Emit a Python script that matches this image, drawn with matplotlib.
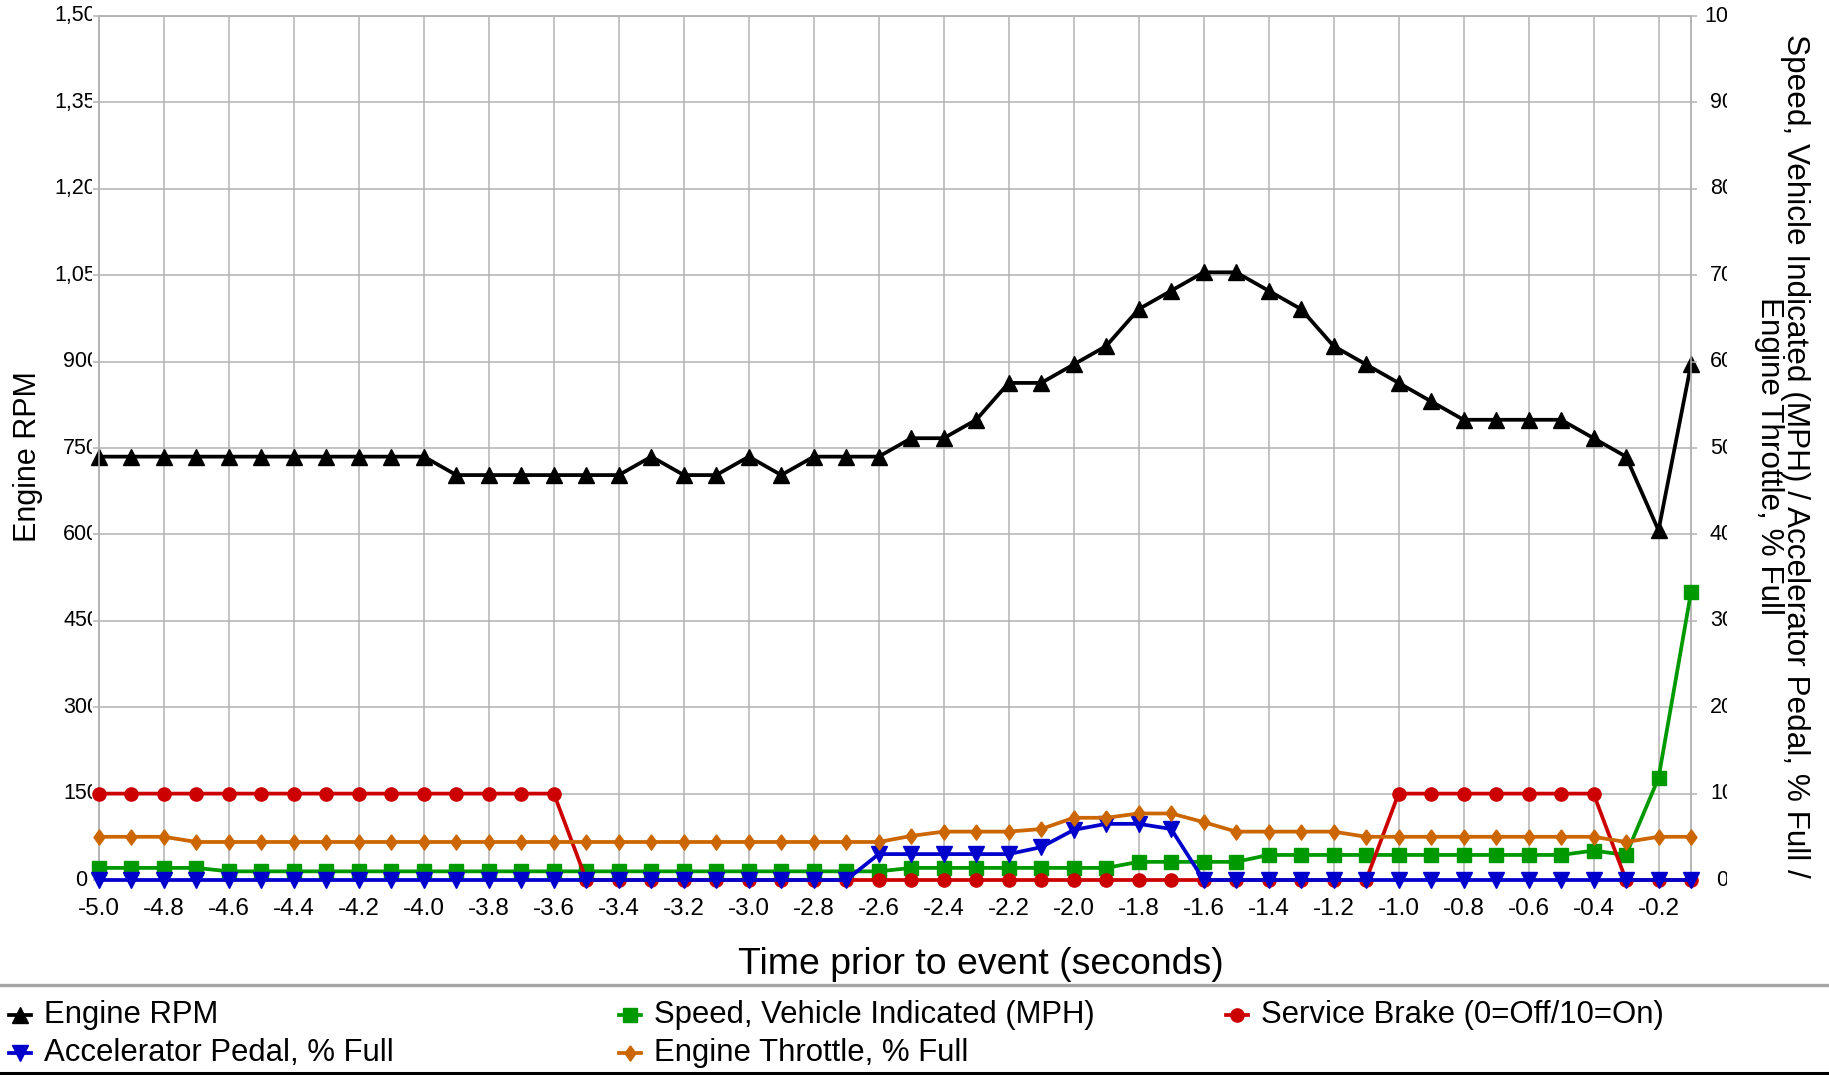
import matplotlib
matplotlib.use("Agg")
import matplotlib.pyplot as plt
from matplotlib.lines import Line2D
from matplotlib.transforms import Bbox, IdentityTransform, blended_transform_factory

plt.rcParams['font.family'] = ['Liberation Sans', 'DejaVu Sans']

# ---------------- data ----------------
time_s = [-5.0, -4.9, -4.8, -4.7, -4.6, -4.5, -4.4, -4.3, -4.2, -4.1,
          -4.0, -3.9, -3.8, -3.7, -3.6, -3.5, -3.4, -3.3, -3.2, -3.1,
          -3.0, -2.9, -2.8, -2.7, -2.6, -2.5, -2.4, -2.3, -2.2, -2.1,
          -2.0, -1.9, -1.8, -1.7, -1.6, -1.5, -1.4, -1.3, -1.2, -1.1,
          -1.0, -0.9, -0.8, -0.7, -0.6, -0.5, -0.4, -0.3, -0.2, -0.1]

engine_rpm = [735, 735, 735, 735, 735, 735, 735, 735, 735, 735,
              735, 703, 703, 703, 703, 703, 703, 735, 703, 703,
              735, 703, 735, 735, 735, 767, 767, 799, 863, 863,
              895, 927, 991, 1023, 1055, 1055, 1023, 991, 927, 895,
              863, 831, 799, 799, 799, 799, 767, 735, 607, 895]

speed_mph = [1.4, 1.4, 1.4, 1.4, 1.0, 1.0, 1.0, 1.0, 1.0, 1.0,
             1.0, 1.0, 1.0, 1.0, 1.0, 1.0, 1.0, 1.0, 1.0, 1.0,
             1.0, 1.0, 1.0, 1.0, 1.0, 1.4, 1.4, 1.4, 1.4, 1.4,
             1.4, 1.4, 2.1, 2.1, 2.1, 2.1, 2.9, 2.9, 2.9, 2.9,
             2.9, 2.9, 2.9, 2.9, 2.9, 2.9, 3.4, 2.9, 11.8, 33.3]

service_brake = [10, 10, 10, 10, 10, 10, 10, 10, 10, 10,
                 10, 10, 10, 10, 10, 0, 0, 0, 0, 0,
                 0, 0, 0, 0, 0, 0, 0, 0, 0, 0,
                 0, 0, 0, 0, 0, 0, 0, 0, 0, 0,
                 10, 10, 10, 10, 10, 10, 10, 0, 0, 0]

accel_pedal = [0, 0, 0, 0, 0, 0, 0, 0, 0, 0,
               0, 0, 0, 0, 0, 0, 0, 0, 0, 0,
               0, 0, 0, 0, 3.0, 3.0, 3.0, 3.0, 3.0, 3.8,
               5.8, 6.5, 6.5, 5.9, 0, 0, 0, 0, 0, 0,
               0, 0, 0, 0, 0, 0, 0, 0, 0, 0]

engine_throttle = [5.0, 5.0, 5.0, 4.4, 4.4, 4.4, 4.4, 4.4, 4.4, 4.4,
                   4.4, 4.4, 4.4, 4.4, 4.4, 4.4, 4.4, 4.4, 4.4, 4.4,
                   4.4, 4.4, 4.4, 4.4, 4.4, 5.1, 5.6, 5.6, 5.6, 5.9,
                   7.2, 7.2, 7.7, 7.7, 6.7, 5.6, 5.6, 5.6, 5.6, 5.0,
                   5.0, 5.0, 5.0, 5.0, 5.0, 5.0, 5.0, 4.4, 5.0, 5.0]

x_ticks = [-5.0, -4.8, -4.6, -4.4, -4.2, -4.0, -3.8, -3.6, -3.4, -3.2, -3.0,
           -2.8, -2.6, -2.4, -2.2, -2.0, -1.8, -1.6, -1.4, -1.2, -1.0,
           -0.8, -0.6, -0.4, -0.2]
x_tick_labels = ["-5.0", "-4.8", "-4.6", "-4.4", "-4.2", "-4.0", "-3.8", "-3.6",
                 "-3.4", "-3.2", "-3.0", "-2.8", "-2.6", "-2.4", "-2.2", "-2.0",
                 "-1.8", "-1.6", "-1.4", "-1.2", "-1.0", "-0.8", "-0.6", "-0.4", "-0.2"]
rpm_ticks = [0, 150, 300, 450, 600, 750, 900, 1050, 1200, 1350, 1500]
rpm_tick_labels = ["0", "150", "300", "450", "600", "750", "900",
                   "1,050", "1,200", "1,350", "1,500"]
right_ticks = [0, 10, 20, 30, 40, 50, 60, 70, 80, 90, 100]
right_tick_labels = ["0", "10", "20", "30", "40", "50", "60", "70", "80", "90", "100"]

series_labels = ["Engine RPM", "Speed, Vehicle Indicated (MPH)",
                 "Service Brake (0=Off/10=On)", "Accelerator Pedal, % Full",
                 "Engine Throttle, % Full"]

# ---------------- styling ----------------
W, H, DPI = 1829, 1075, 100
GRID = '#b3b3b3'
C_BLACK, C_GREEN, C_RED, C_BLUE, C_ORANGE = '#000000', '#009900', '#cc0000', '#0000cc', '#cc6600'
diamond = [(0, 1), (0.72, 0), (0, -1), (-0.72, 0), (0, 1)]
LW = 2.7

fig = plt.figure(figsize=(W / DPI, H / DPI), dpi=DPI)
AX_L, AX_R, AX_T, AX_B = 99, 1691, 16, 880
ax = fig.add_axes([AX_L / W, (H - AX_B) / H, (AX_R - AX_L) / W, (AX_B - AX_T) / H])
ax.set_xlim(-5.0, -0.1)
ax.set_ylim(0, 1500)
ax2 = ax.twinx()
ax2.set_ylim(0, 100)

ax.set_xticks(x_ticks)
ax.set_xticklabels(x_tick_labels, fontsize=17.5)
ax.set_yticks(rpm_ticks)
ax.set_yticklabels([])
ax2.set_yticks(right_ticks)
ax2.set_yticklabels([])
ax.grid(True, color=GRID, lw=1.1)
ax.set_axisbelow(True)
for a in (ax, ax2):
    for s in a.spines.values():
        s.set_color(GRID)
        s.set_linewidth(1.1)
    a.tick_params(length=4, width=1.1, color=GRID, pad=9)

# manual (clipped) y tick labels
trans_l = blended_transform_factory(IdentityTransform(), ax.transData)
for v, s in zip(rpm_ticks, rpm_tick_labels):
    t = ax.text(81, v, s, transform=trans_l, ha='center', va='center',
                fontsize=15.5, clip_on=True)
    t.set_clip_box(Bbox.from_extents(0, 0, 92, H))
trans_r = blended_transform_factory(IdentityTransform(), ax2.transData)
for v, s in zip(right_ticks, right_tick_labels):
    t = ax2.text(1722, v, s, transform=trans_r, ha='center', va='center',
                 fontsize=15.5, clip_on=True)
    t.set_clip_box(Bbox.from_extents(1695, 0, 1727, H))

# series
ax.plot(time_s, engine_rpm, color=C_BLACK, lw=LW, marker='^', ms=12, clip_on=False, zorder=3)
ax2.plot(time_s, speed_mph, color=C_GREEN, lw=LW, marker='s', ms=10, clip_on=False, zorder=3)
ax2.plot(time_s, service_brake, color=C_RED, lw=LW, marker='o', ms=9.5, clip_on=False, zorder=3)
ax2.plot(time_s, accel_pedal, color=C_BLUE, lw=LW, marker='v', ms=12, clip_on=False, zorder=3)
ax2.plot(time_s, engine_throttle, color=C_ORANGE, lw=LW, marker=diamond, ms=11, clip_on=False, zorder=3)

# axis titles
fig.text(28 / W, 1 - 457 / H, "Engine RPM", rotation=90, ha='center', va='center', fontsize=22)
fig.text(1782 / W, 1 - 456 / H,
         "Speed, Vehicle Indicated (MPH) / Accelerator Pedal, % Full /\nEngine Throttle, % Full",
         rotation=270, ha='center', va='center', fontsize=22.7, linespacing=0.85,
         multialignment='center')
fig.text(981 / W, 1 - 965 / H, "Time prior to event (seconds)", ha='center', va='center', fontsize=26.9)

# legend area
fig.add_artist(Line2D([0, 1], [1 - 985 / H, 1 - 985 / H], transform=fig.transFigure,
                      color='#a6a6a6', lw=2.4))
fig.add_artist(Line2D([0, 1], [1 - 1073 / H, 1 - 1073 / H], transform=fig.transFigure,
                      color='#000000', lw=2.2))
leg_items = [
    (series_labels[0], C_BLACK, '^', 12, 9, 1015),
    (series_labels[1], C_GREEN, 's', 10, 619, 1015),
    (series_labels[2], C_RED, 'o', 9.5, 1226, 1015),
    (series_labels[3], C_BLUE, 'v', 12, 9, 1053),
    (series_labels[4], C_ORANGE, diamond, 11, 619, 1053),
]
for label, col, mk, ms, x0, y0 in leg_items:
    yf = 1 - y0 / H
    fig.add_artist(Line2D([x0 / W, (x0 + 22) / W], [yf, yf], transform=fig.transFigure,
                          color=col, lw=LW))
    fig.add_artist(Line2D([(x0 + 11) / W], [yf], transform=fig.transFigure,
                          color=col, marker=mk, ms=ms, lw=0))
    fig.text((x0 + 35) / W, yf, label, ha='left', va='center', fontsize=22.4)

fig.savefig("out.png", dpi=DPI)
